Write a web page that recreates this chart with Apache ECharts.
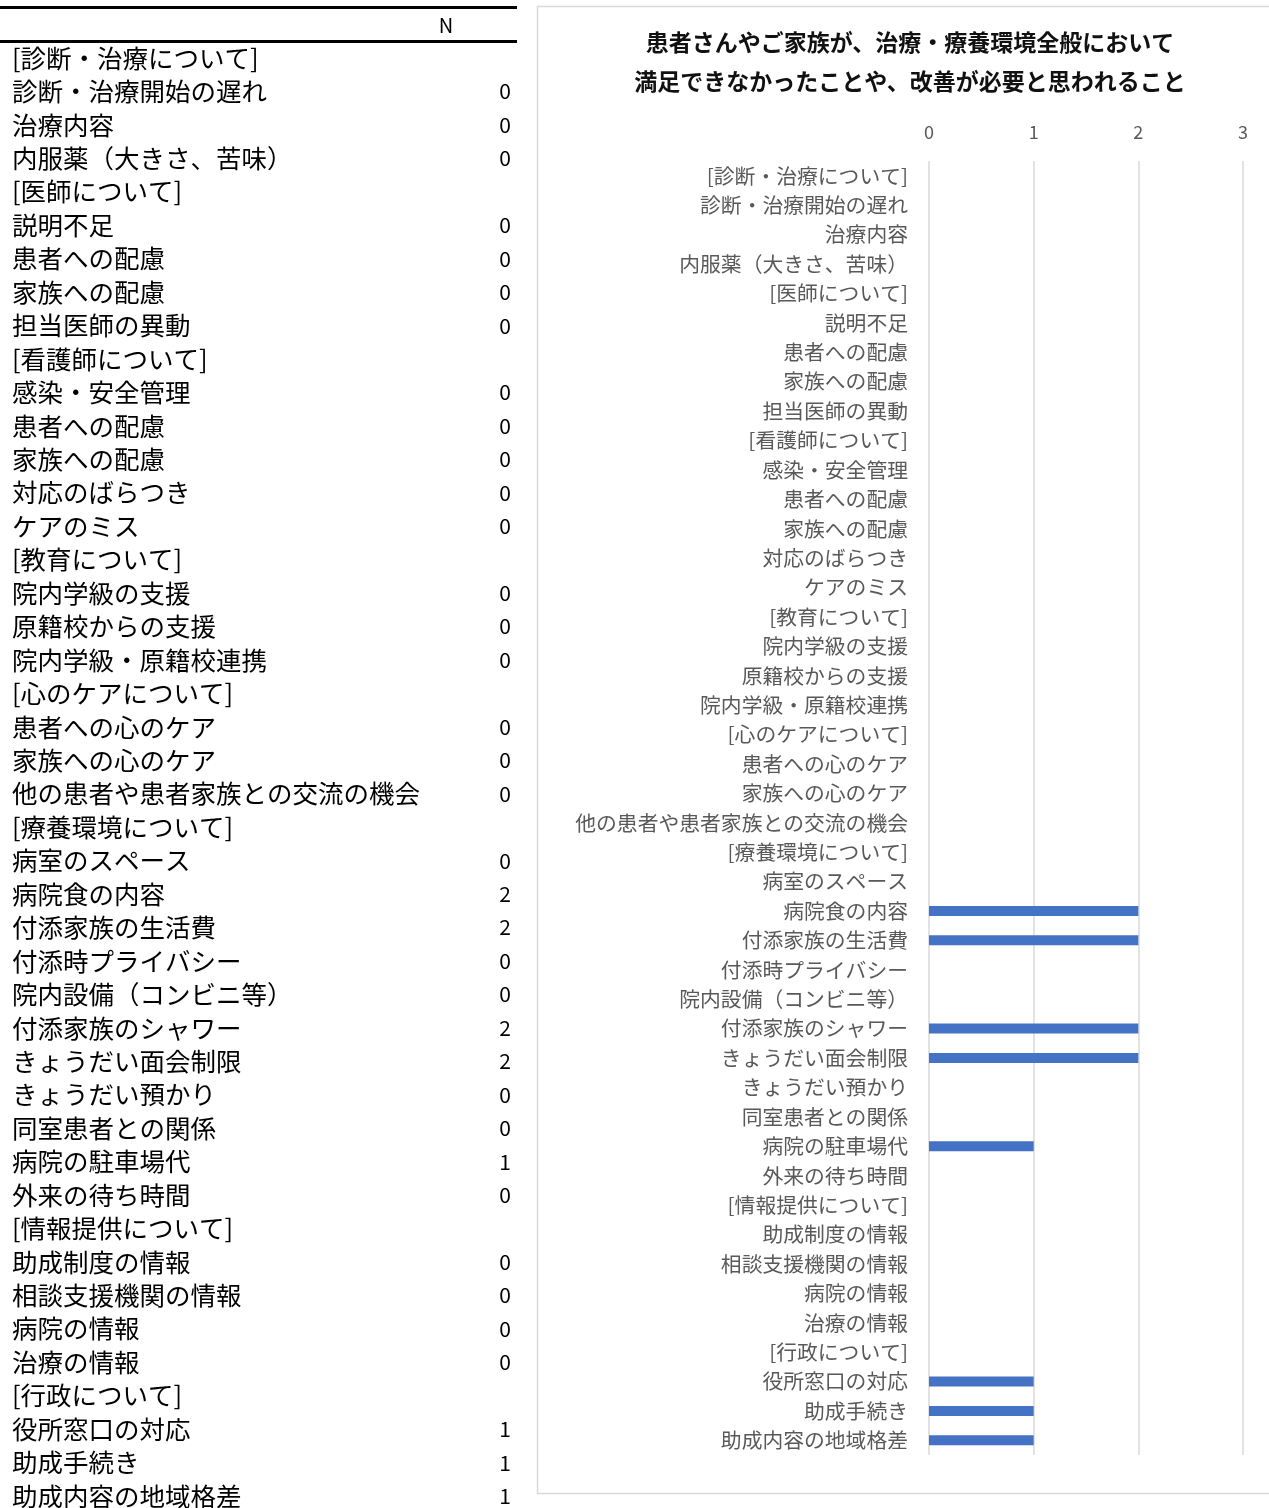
<!DOCTYPE html>
<html>
<head>
<meta charset="utf-8">
<script src="https://cdn.jsdelivr.net/npm/echarts@6/dist/echarts.min.js"></script>
<style>
  html, body { margin: 0; padding: 0; background: #fff; }
  #chart { width: 1269px; height: 1508px; }
</style>
</head>
<body>
<div id="chart"></div>
<script>
// 項目（見出し行は [ ] 付き）
var categories = [
  '[診断・治療について]', '診断・治療開始の遅れ', '治療内容', '内服薬（大きさ、苦味）',
  '[医師について]', '説明不足', '患者への配慮', '家族への配慮', '担当医師の異動',
  '[看護師について]', '感染・安全管理', '患者への配慮', '家族への配慮', '対応のばらつき', 'ケアのミス',
  '[教育について]', '院内学級の支援', '原籍校からの支援', '院内学級・原籍校連携',
  '[心のケアについて]', '患者への心のケア', '家族への心のケア', '他の患者や患者家族との交流の機会',
  '[療養環境について]', '病室のスペース', '病院食の内容', '付添家族の生活費', '付添時プライバシー',
  '院内設備（コンビニ等）', '付添家族のシャワー', 'きょうだい面会制限', 'きょうだい預かり',
  '同室患者との関係', '病院の駐車場代', '外来の待ち時間',
  '[情報提供について]', '助成制度の情報', '相談支援機関の情報', '病院の情報', '治療の情報',
  '[行政について]', '役所窓口の対応', '助成手続き', '助成内容の地域格差'
];
// N（見出し行は null）
var counts = [
  null, 0, 0, 0,
  null, 0, 0, 0, 0,
  null, 0, 0, 0, 0, 0,
  null, 0, 0, 0,
  null, 0, 0, 0,
  null, 0, 2, 2, 0,
  0, 2, 2, 0,
  0, 1, 0,
  null, 0, 0, 0, 0,
  null, 1, 1, 1
];
var xTicks = [0, 1, 2, 3];
var titleLines = [
  '患者さんやご家族が、治療・療養環境全般において',
  '満足できなかったことや、改善が必要と思われること'
];

var chart = echarts.init(document.getElementById('chart'));
var jpFont = '"Noto Sans CJK JP", "Noto Sans", sans-serif';

// 左の表
var rowTop = 58, rowStep = (1496 - 58) / (categories.length - 1);
var tableGraphics = [
  { type: 'rect', shape: { x: 0, y: 6, width: 517, height: 3 }, style: { fill: '#000' } },
  { type: 'rect', shape: { x: 0, y: 40, width: 517, height: 3 }, style: { fill: '#000' } },
  { type: 'text', x: 446, y: 25, style: { text: 'N', font: '20px ' + jpFont, fill: '#000', textAlign: 'center', textVerticalAlign: 'middle' } },
  // 右側の枠
  { type: 'rect', shape: { x: 537.5, y: 6.5, width: 760, height: 1487 }, style: { fill: 'none', stroke: '#d9d9d9', lineWidth: 1.5 } }
];
for (var i = 0; i < categories.length; i++) {
  var y = rowTop + i * rowStep;
  tableGraphics.push({
    type: 'text', x: 12, y: y,
    style: { text: categories[i], font: '25.5px ' + jpFont, fill: '#000', textAlign: 'left', textVerticalAlign: 'middle' }
  });
  if (counts[i] !== null) {
    tableGraphics.push({
      type: 'text', x: 511, y: y,
      style: { text: String(counts[i]), font: '21px ' + jpFont, fill: '#000', textAlign: 'right', textVerticalAlign: 'middle' }
    });
  }
}

chart.setOption({
  animation: false,
  backgroundColor: '#fff',
  title: {
    text: titleLines.join('\n'),
    left: 905,
    top: 18,
    textAlign: 'center',
    textStyle: { fontFamily: jpFont, fontSize: 23, fontWeight: 'bold', color: '#111', lineHeight: 39 }
  },
  graphic: tableGraphics,
  grid: { left: 929, right: 26, top: 161, bottom: 1508 - 1455 },
  xAxis: {
    type: 'value',
    position: 'top',
    min: xTicks[0],
    max: xTicks[xTicks.length - 1],
    interval: 1,
    axisLine: { show: false },
    axisTick: { show: false },
    axisLabel: { color: '#595959', fontSize: 18, fontFamily: jpFont, margin: 20 },
    splitLine: { lineStyle: { color: '#d9d9d9', width: 1.5 } }
  },
  yAxis: {
    type: 'category',
    inverse: true,
    data: categories,
    axisLine: { show: false },
    axisTick: { show: false },
    axisLabel: { color: '#595959', fontSize: 20.8, fontFamily: jpFont, margin: 21, interval: 0 }
  },
  series: [{
    type: 'bar',
    data: counts,
    barWidth: 10,
    itemStyle: { color: '#4472C4' }
  }]
});
</script>
</body>
</html>
